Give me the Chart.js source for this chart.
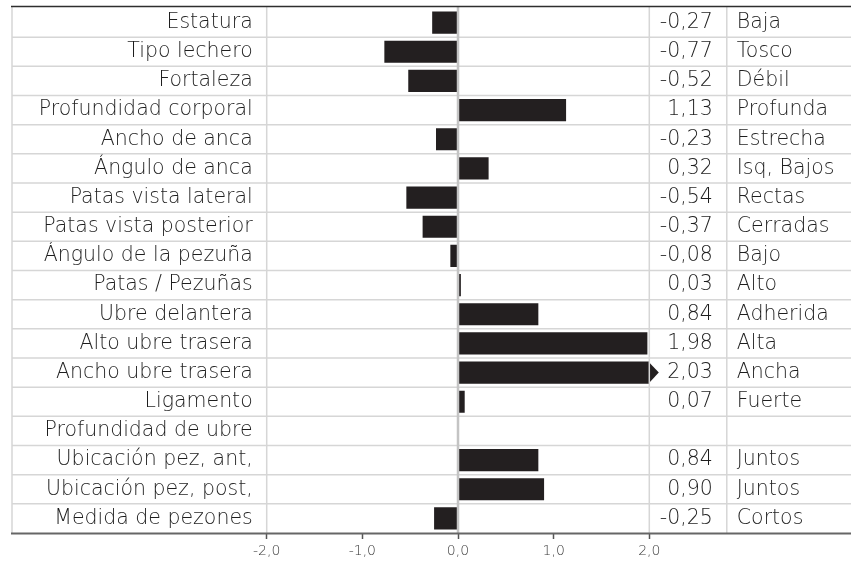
<!DOCTYPE html>
<html><head><meta charset="utf-8">
<script src="https://cdn.jsdelivr.net/npm/chart.js@4.4.1/dist/chart.umd.min.js"></script>
<style>html,body{margin:0;padding:0;background:#fff;}#wrap{width:851px;height:564px;position:relative}</style>
</head><body><div id="wrap"><canvas id="c"></canvas></div>
<script>
const categories = ["Estatura","Tipo lechero","Fortaleza","Profundidad corporal","Ancho de anca","Ángulo de anca","Patas vista lateral","Patas vista posterior","Ángulo de la pezuña","Patas / Pezuñas","Ubre delantera","Alto ubre trasera","Ancho ubre trasera","Ligamento","Profundidad de ubre","Ubicación pez, ant,","Ubicación pez, post,","Medida de pezones"];
const values = [-0.27,-0.77,-0.52,1.13,-0.23,0.32,-0.54,-0.37,-0.08,0.03,0.84,1.98,2.03,0.07,null,0.84,0.90,-0.25];
const descriptors = ["Baja","Tosco","Débil","Profunda","Estrecha","Isq, Bajos","Rectas","Cerradas","Bajo","Alto","Adherida","Alta","Ancha","Fuerte","","Juntos","Juntos","Cortos"];
const xTickValues = [-2,-1,0,1,2];
const xMin = -2, xMax = 2;

const FAMILY = "'DejaVu Sans', sans-serif";
const LABEL_SIZE = 20.5, LABEL_WEIGHT = '200';
const TEXT = '#1e1e1e';
const BAR = '#231f20';
const fmt2 = v => v.toFixed(2).replace('.', ',');
const fmt1 = v => v.toFixed(1).replace('.', ',');

const tablePlugin = {
  id: 'table',
  afterDatasetsDraw(chart) {
    const {ctx, chartArea: ca, scales: {x, y}} = chart;
    const W = chart.width;
    const left = 12, valColRight = ca.right + 77.5;
    const half = (y.getPixelForValue(1) - y.getPixelForValue(0)) / 2;
    ctx.save();
    const meta = chart.getDatasetMeta(0);
    values.forEach((v, i) => {
      if (v != null && v > xMax) {
        const el = meta.data[i];
        const x0 = x.getPixelForValue(xMax);
        ctx.fillStyle = BAR;
        ctx.beginPath();
        ctx.moveTo(x0 - 1, el.y - el.height / 2);
        ctx.lineTo(x0 + 9.5, el.y);
        ctx.lineTo(x0 - 1, el.y + el.height / 2);
        ctx.closePath();
        ctx.fill();
      }
    });
    ctx.strokeStyle = '#d6d6d6';
    ctx.lineWidth = 1.5;
    for (let k = 1; k < categories.length; k++) {
      const yy = y.getPixelForValue(k) - half;
      ctx.beginPath(); ctx.moveTo(left, yy); ctx.lineTo(W, yy); ctx.stroke();
    }
    [left, x.getPixelForValue(xMin), x.getPixelForValue(xMax), valColRight].forEach(xx => {
      ctx.beginPath(); ctx.moveTo(xx, ca.top - 1); ctx.lineTo(xx, ca.bottom); ctx.stroke();
    });
    ctx.strokeStyle = '#c4c4c4';
    ctx.lineWidth = 2.5;
    const x0 = x.getPixelForValue(0);
    ctx.beginPath(); ctx.moveTo(x0, ca.top - 1); ctx.lineTo(x0, ca.bottom); ctx.stroke();
    ctx.strokeStyle = '#2e2e2e';
    ctx.lineWidth = 1.5;
    ctx.beginPath(); ctx.moveTo(11, ca.top - 1.5); ctx.lineTo(W, ca.top - 1.5); ctx.stroke();
    ctx.strokeStyle = '#666666';
    ctx.lineWidth = 2;
    ctx.beginPath(); ctx.moveTo(11, ca.bottom + 0.5); ctx.lineTo(W, ca.bottom + 0.5); ctx.stroke();
    ctx.fillStyle = TEXT;
    ctx.font = LABEL_WEIGHT + ' ' + LABEL_SIZE + 'px ' + FAMILY;
    ctx.textBaseline = 'middle';
    values.forEach((v, i) => {
      const yy = y.getPixelForValue(i);
      if (v != null) {
        ctx.textAlign = 'right';
        ctx.fillText(fmt2(v), valColRight - 14, yy);
      }
      if (descriptors[i]) {
        ctx.textAlign = 'left';
        ctx.fillText(descriptors[i], valColRight + 10, yy);
      }
    });
    ctx.restore();
  }
};

new Chart(document.getElementById('c'), {
  type: 'bar',
  data: {
    labels: categories,
    datasets: [{
      data: values,
      backgroundColor: BAR,
      borderWidth: 0,
      barPercentage: 0.76,
      categoryPercentage: 1,
      clip: 0
    }]
  },
  plugins: [tablePlugin],
  options: {
    indexAxis: 'y',
    responsive: true,
    maintainAspectRatio: false,
    animation: false,
    devicePixelRatio: 1,
    layout: {padding: {top: 8, right: 201.7, left: 0, bottom: 0}},
    plugins: {legend: {display: false}, tooltip: {enabled: false}},
    scales: {
      x: {
        type: 'linear',
        min: xMin, max: xMax,
        afterBuildTicks: s => { s.ticks = xTickValues.map(v => ({value: v})); },
        afterFit: s => { s.height = 31; s.paddingLeft = 0; s.paddingRight = 0; },
        border: {display: false},
        grid: {drawOnChartArea: false, drawTicks: true, tickLength: 6, tickColor: '#555', tickWidth: 1.5},
        ticks: {
          padding: 4,
          color: '#3a3a3a',
          font: {family: FAMILY, size: 14, weight: '200'},
          callback: v => fmt1(v),
          maxRotation: 0
        }
      },
      y: {
        afterFit: s => { s.width = 266.7; s.paddingTop = 0; s.paddingBottom = 0; },
        border: {display: false},
        grid: {display: false, drawTicks: false},
        ticks: {
          padding: 14,
          color: TEXT,
          font: {family: FAMILY, size: LABEL_SIZE, weight: LABEL_WEIGHT},
          autoSkip: false
        }
      }
    }
  }
});
</script>
</body></html>
